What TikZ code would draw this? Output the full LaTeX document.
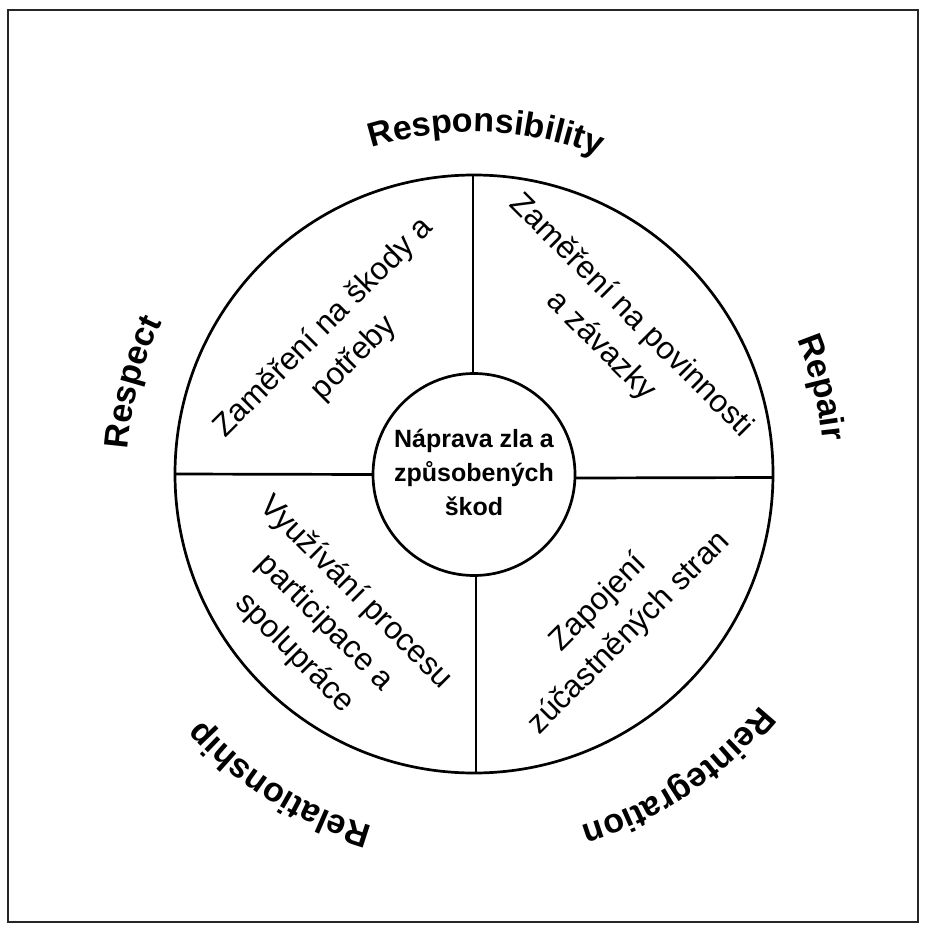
\documentclass[tikz,border=0pt]{standalone}
\usepackage{fontspec}
\setmainfont{Liberation Sans}
\usetikzlibrary{decorations.text,calc}
\newcommand\ringlabel[3]{%
  \path[decorate,decoration={text along path,text align=center,
    text={|\bfseries\fontsize{34}{34}\selectfont|#3}}]
    ([shift={(#1+70:#2)}]ctr) arc[start angle=#1+70,end angle=#1-70,radius=#2];}
\begin{document}
\begin{tikzpicture}[x=1pt,y=1pt,
  ring/.style={circle,draw,line width=2.7pt,inner sep=0pt,outer sep=0pt},
  seg/.style={line width=2.7pt},
  quad/.style={align=center,font=\fontsize{31.5}{43}\selectfont,inner sep=0pt},
  hub/.style={align=center,font=\bfseries\fontsize{25}{34}\selectfont,inner sep=0pt},
  frame/.style={line width=2pt,draw=black!85}]
\useasboundingbox (0,0) rectangle (927,-933);
\draw[frame] (8,-10) rectangle (918,-922);
\coordinate (ctr) at (474,-474);
\node[ring,minimum size=598pt] (o) at (ctr) {};
\node[ring,minimum size=202pt] (c) at (474,-474.5) {};
\node[hub] (ct) at (474,-472) {Náprava zla a\\způsobených\\škod};
\draw[seg] ([xshift=-1pt]c.north) -- ([xshift=-1pt]o.north);
\draw[seg] (c.west) -- (o.west);
\draw[seg] ([yshift=-3.5pt]c.east) -- ([yshift=-3.5pt]o.east);
\draw[seg] ([xshift=2pt]c.south) -- ([xshift=2pt]o.south);
\node[quad,rotate=45] (q1) at (339,-343) {Zaměření na škody a\\potřeby};
\node[quad,rotate=-45] (q2) at (616,-331) {Zaměření na povinnosti\\a závazky};
\node[quad,rotate=-45] (q3) at (325,-623) {Využívání procesu\\participace a\\spolupráce};
\node[quad,rotate=45] (q4) at (614,-618) {Zapojení\\zúčastněných stran};
\ringlabel{88}{342}{Responsibility}
\ringlabel{165}{347}{Respect}
\ringlabel{14}{350}{Repair}
\ringlabel{-56}{368}{Reintegration}
\ringlabel{-122}{367}{Relationship}
\end{tikzpicture}
\end{document}
